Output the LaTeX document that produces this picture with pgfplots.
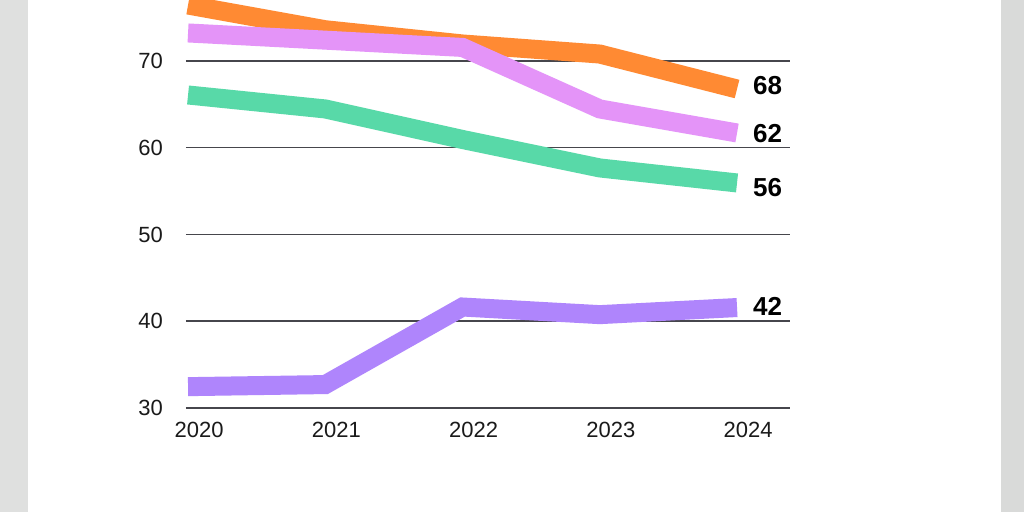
\documentclass[border=0pt]{standalone}
\usepackage{pgfplots}
\pgfplotsset{compat=1.18}
\usepackage{fontspec}
\setmainfont{Liberation Sans}
\definecolor{cOrange}{HTML}{FF8A33}
\definecolor{cPink}{HTML}{E494F8}
\definecolor{cGreen}{HTML}{58D9A8}
\definecolor{cPurple}{HTML}{AF85FC}
\definecolor{bgL}{HTML}{DFE0DF}
\definecolor{bgR}{HTML}{D9DAD9}
\definecolor{gridc}{HTML}{46464C}
\definecolor{tickc}{HTML}{1A1A1A}
\begin{document}
\begin{tikzpicture}[x=1bp,y=1bp]
\useasboundingbox (-186,-104) rectangle (838,408);
\fill[bgL] (-186,-104) rectangle (-158,408);
\fill[bgR] (815,-104) rectangle (838,408);
\fill[white] (-158,-104) rectangle (815,408);
\begin{axis}[
  at={(0,0)}, anchor=south west,
  scale only axis, width=604bp, height=408bp,
  xmin=2019.985, xmax=2024.386,
  ymin=30, ymax=77.03,
  axis line style={draw=none},
  tick style={draw=none},
  xtick={2020,2021,2022,2023,2024},
  xticklabels={2020,2021,2022,2023,2024},
  ytick={30,40,50,60,70},
  yticklabels={30,40,50,60,70},
  ymajorgrids,
  major grid style={line width=1.5bp, color=gridc},
  ticklabel style={font=\fontsize{22bp}{26bp}\selectfont, text=tickc, inner sep=0pt},
  xticklabel style={anchor=north, yshift=-14bp, xshift=11bp},
  yticklabel style={anchor=east, xshift=-23bp},
  every axis plot/.append style={no markers, line width=19bp, line cap=butt, line join=miter},
]
\addplot[cOrange] coordinates {(2020,76.45) (2021,73.6) (2022,71.96) (2023,70.8) (2024,66.77)};
\addplot[cPink] coordinates {(2020,73.23) (2021,72.4) (2022,71.56) (2023,64.47) (2024,61.7)};
\addplot[cGreen] coordinates {(2020,66.08) (2021,64.47) (2022,60.95) (2023,57.67) (2024,55.94)};
\addplot[cPurple] coordinates {(2020,32.46) (2021,32.7) (2022,41.64) (2023,40.76) (2024,41.58)};
\begin{scope}[every node/.style={anchor=west, inner sep=0pt, xshift=16bp, font=\fontsize{26bp}{31bp}\selectfont\bfseries}]
\node at (axis cs:2024,67.18) {68};
\node at (axis cs:2024,61.59) {62};
\node at (axis cs:2024,55.42) {56};
\node at (axis cs:2024,41.76) {42};
\end{scope}
\end{axis}
\end{tikzpicture}
\end{document}
